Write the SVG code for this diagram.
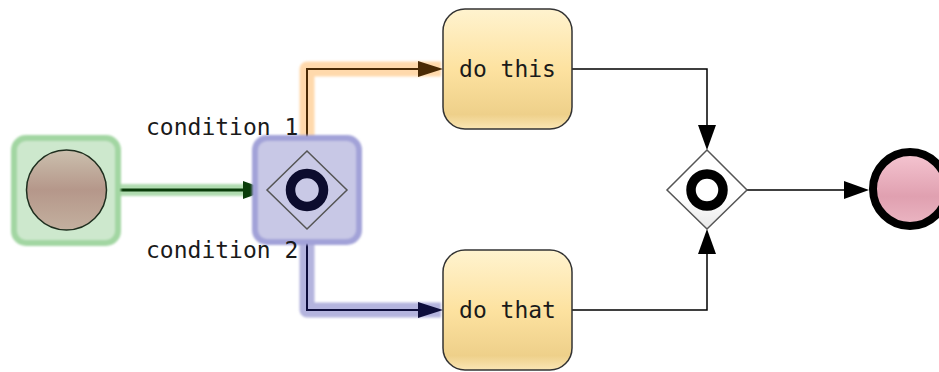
<svg xmlns="http://www.w3.org/2000/svg" width="939" height="372" viewBox="0 0 939 372">
<defs>
<linearGradient id="gTask" x1="0" y1="0" x2="0" y2="1">
<stop offset="0" stop-color="#fff3cf"/>
<stop offset="0.5" stop-color="#fde2a0"/>
<stop offset="0.88" stop-color="#eed08a"/>
<stop offset="1" stop-color="#fae6b4"/>
</linearGradient>
<linearGradient id="gStart" x1="0" y1="0" x2="0" y2="1">
<stop offset="0" stop-color="#cbc0ae"/>
<stop offset="0.5" stop-color="#b5978a"/>
<stop offset="1" stop-color="#c3b09f"/>
</linearGradient>
<linearGradient id="gEnd" x1="0" y1="0" x2="0" y2="1">
<stop offset="0" stop-color="#f6c6d2"/>
<stop offset="0.6" stop-color="#e0a0b0"/>
<stop offset="1" stop-color="#ebb6c3"/>
</linearGradient>
<linearGradient id="gGate" x1="0" y1="0" x2="0" y2="1">
<stop offset="0" stop-color="#ffffff"/>
<stop offset="0.6" stop-color="#ffffff"/>
<stop offset="1" stop-color="#e8e8e8"/>
</linearGradient>
<filter id="soft" filterUnits="userSpaceOnUse" x="0" y="0" width="939" height="372">
<feGaussianBlur stdDeviation="1"/>
</filter>
</defs>
<style>
.task{fill:url(#gTask);stroke:#333;stroke-width:1.5}
.lbl{font-family:"DejaVu Sans Mono","Liberation Mono",monospace;font-size:23px;fill:#1a1a1a}
.gw{stroke:#555;stroke-width:1.5}
.ring{fill:none;stroke-width:9.5}
.hl{fill:none;stroke-linejoin:round;filter:url(#soft)}
.ln{fill:none}
</style>

<g id="connectors">
<path class="hl" d="M107,190 H266" stroke="#b0dcb0" stroke-width="12"/>
<path class="hl" d="M307,151 V69 H441" stroke="#ffd9ac" stroke-width="15"/>
<path class="hl" d="M307,229 V310 H441" stroke="#b4b4de" stroke-width="15"/>
<path class="ln" d="M107,190 H244" stroke="#0b3d0b" stroke-width="3"/>
<polygon points="243,181 268,190 243,199" fill="#0b3d0b"/>
<path class="ln" d="M307,151 V69 H420" stroke="#4a2a05" stroke-width="2"/>
<polygon points="418,61 443,69 418,77" fill="#4a2a05"/>
<path class="ln" d="M307,229 V310 H420" stroke="#0e0e3c" stroke-width="2"/>
<polygon points="418,302 443,310 418,318" fill="#0e0e3c"/>
<path class="ln" d="M572,69 H707 V128" stroke="#000" stroke-width="1.5"/>
<polygon points="698,125 707,150 716,125" fill="#000"/>
<path class="ln" d="M572,310 H707 V252" stroke="#000" stroke-width="1.5"/>
<polygon points="698,254 707,229 716,254" fill="#000"/>
<path class="ln" d="M747,190 H846" stroke="#000" stroke-width="1.5"/>
<polygon points="844,181 869,190 844,199" fill="#000"/>
</g>

<g id="start">
<rect x="14" y="138" width="104" height="105" rx="12" fill="#cde8cd" stroke="#a2d6a2" stroke-width="6" filter="url(#soft)"/>
<circle cx="66.5" cy="190" r="40" fill="url(#gStart)" stroke="#1e2e1e" stroke-width="1.5"/>
</g>

<g id="gateway1">
<rect x="255" y="138" width="104" height="104" rx="12" fill="#c8c8e6" stroke="#a2a2d8" stroke-width="6" filter="url(#soft)"/>
<polygon class="gw" points="307,151 347,190 307,229 267,190" fill="#c9c9e6" stroke="#3a3a5a"/>
<circle class="ring" cx="307" cy="190" r="16.5" stroke="#0c0c2e"/>
</g>

<g id="task-this">
<rect class="task" x="443" y="9" width="129" height="120" rx="22"/>
<text class="lbl" x="507.5" y="77" text-anchor="middle">do this</text>
</g>

<g id="task-that">
<rect class="task" x="443" y="250" width="129" height="120" rx="22"/>
<text class="lbl" x="507.5" y="318" text-anchor="middle">do that</text>
</g>

<g id="gateway2">
<polygon class="gw" points="707,150 747,190 707,229 667,190" fill="url(#gGate)"/>
<circle class="ring" cx="707" cy="190" r="16" stroke="#000"/>
</g>

<g id="end">
<circle cx="910" cy="189" r="37" fill="url(#gEnd)" stroke="#000" stroke-width="8"/>
</g>

<g id="labels">
<text class="lbl" x="146" y="135">condition 1</text>
<text class="lbl" x="146" y="258">condition 2</text>
</g>
</svg>
